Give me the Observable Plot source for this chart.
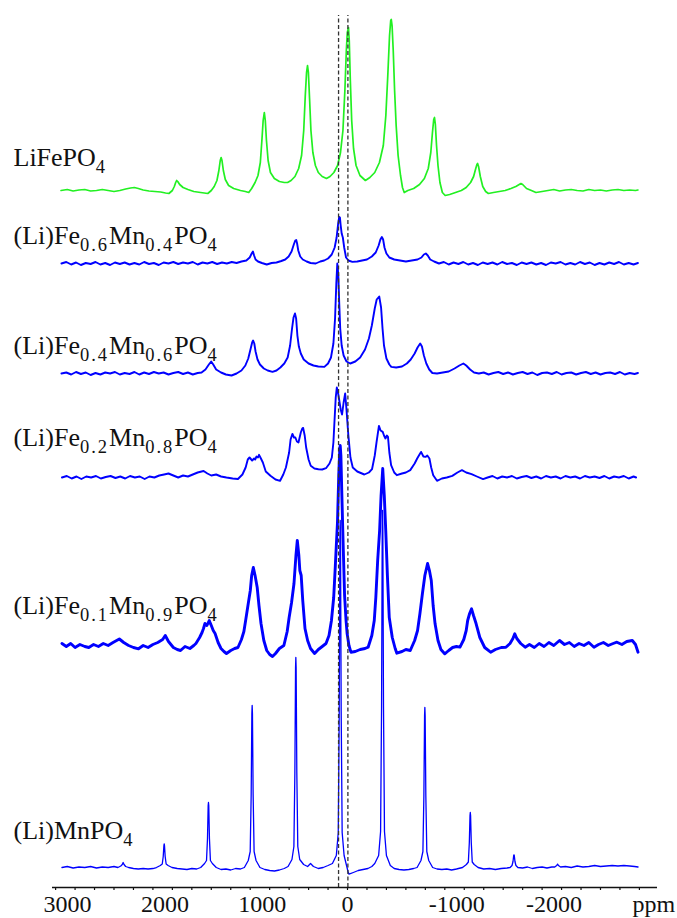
<!DOCTYPE html>
<html>
<head>
<meta charset="utf-8">
<script src="https://cdn.jsdelivr.net/npm/d3@7"></script>
<script src="https://cdn.jsdelivr.net/npm/@observablehq/plot@0.6"></script>
<style>
  html, body { margin: 0; padding: 0; background: #fff; }
  #chart svg { display: block; }
</style>
</head>
<body>
<div id="chart"></div>
<script>
// ---- Data (ppm, intensity above each trace's own baseline) ----
const names = ["LiFePO_{4}", "(Li)Fe_{0.6}Mn_{0.4}PO_{4}", "(Li)Fe_{0.4}Mn_{0.6}PO_{4}", "(Li)Fe_{0.2}Mn_{0.8}PO_{4}", "(Li)Fe_{0.1}Mn_{0.9}PO_{4}", "(Li)MnPO_{4}"];
const offsets = [697, 624, 514, 410, 242, 20];
const labelY = [722, 644, 534, 442, 274, 49];
const dashedPpm = [92, -4];
const dashedTop = 872;
const tickLabels = [3000, 2000, 1000, 0, -1000, -2000];
const minorTicks = d3.range(3000, -3001, -200);

const lifepo4 = [
[2944,0],[2880,1],[2820,-0.5],[2760,0.5],[2700,1],[2640,-0.5],[2580,0],[2520,1],[2460,0],[2400,-1],[2340,0],[2280,1.5],[2230,2.5],[2191,3],[2150,2],[2100,0.5],[2040,-0.5],[1980,-1],[1920,-1.5],[1870,-2.5],[1836,-3],
[1800,0],[1780,4],[1766,8],[1756,10],[1745,9],[1725,6],[1690,3],[1640,1],[1580,-1],[1510,-2],[1436,-3],
[1400,0],[1370,4],[1342,10],[1322,20],[1308,30],[1299,33],[1290,30],[1276,20],[1256,11],[1222,5],[1170,2],[1100,0],[1050,-1],[1015,-2],
[985,2],[950,8],[920,15],[896,28],[880,50],[867,70],[855,78],[845,70],[833,50],[816,30],[792,18],[752,12],[700,9],[650,8],[616,8],
[580,10],[540,14],[502,22],[472,35],[450,60],[434,95],[421,118],[411,125],[402,118],[390,92],[376,60],[356,38],[330,25],[300,18],[260,14],[216,12],
[180,14],[140,18],[102,25],[72,38],[47,60],[27,100],[12,140],[2,158],[-10,163],[-18,150],[-29,110],[-43,70],[-62,42],[-88,25],[-128,15],[-184,10],
[-230,13],[-280,18],[-328,28],[-368,45],[-394,75],[-414,115],[-432,155],[-444,170],[-450,171],[-458,165],[-470,140],[-484,100],[-500,65],[-520,35],[-545,15],[-565,3],[-583,-2],
[-620,0],[-680,2],[-740,6],[-790,12],[-830,22],[-856,38],[-873,58],[-886,71],[-894,73],[-903,66],[-915,45],[-930,25],[-950,8],[-975,-2],[-1004,-5],
[-1050,-4],[-1110,-2],[-1170,0],[-1220,3],[-1265,8],[-1296,14],[-1318,22],[-1330,26],[-1337,27],[-1347,24],[-1365,14],[-1390,4],[-1420,-1],[-1448,-3],
[-1500,-2],[-1560,-1],[-1620,0],[-1680,2],[-1730,4],[-1765,6],[-1782,7],[-1800,6],[-1840,2],[-1890,0],[-1937,-2],[-2000,-1],
[-2060,0],[-2120,1],[-2180,-0.5],[-2240,0.5],[-2300,1],[-2360,0],[-2420,-0.5],[-2480,1],[-2540,0],[-2600,0.5],[-2660,-0.5],[-2720,0.5],[-2780,1],[-2840,0],[-2900,0.5],[-2960,0],[-2985,0.5]
];

const fe06 = [
[2940,0],[2890,1.5],[2840,-1],[2790,1],[2740,-1.5],[2690,0.5],[2640,-0.5],[2590,1.5],[2540,-1],[2490,0.5],[2440,-1.5],[2390,1],[2340,-0.5],[2290,1],[2240,-1],[2190,0.5],[2140,-1],[2090,1.5],[2040,-0.5],[1990,0.5],[1940,-1.5],[1890,1],[1840,0],[1790,1.5],[1740,-0.5],[1690,1],[1640,0],[1590,1.5],[1540,-1],[1490,1],[1440,0],[1390,1.5],[1340,-0.5],[1290,1],[1240,0],[1190,1.5],[1140,0.5],[1090,2],[1040,3],[1005,6],[985,10],[972,12],[960,8],[945,4],[920,2],[880,0.5],[830,-1],[780,0.5],[730,1],[680,2.5],[640,4],[605,7],[575,12],[552,19],[537,23],[527,23.5],[518,20],[506,13],[486,7],[460,4],[420,2],[380,0.5],[327,0],[280,2],[240,3],[200,5],[162,9],[132,16],[112,26],[96,40],[85,46.5],[78,46],[70,38],[60,30],[48,26],[34,16],[15,6],[-10,3],[-50,1.6],[-100,2],[-150,3],[-200,4],[-250,7],[-290,11],[-320,18],[-338,24],[-353,26.5],[-366,24],[-380,16],[-400,10],[-430,6],[-480,4],[-539,3],[-600,2],[-660,3],[-720,4],[-760,6],[-785,9],[-805,10],[-825,8],[-850,4],[-890,2],[-940,0],[-990,1.5],[-1040,-1],[-1090,1],[-1140,-0.5],[-1190,1.5],[-1240,-1],[-1290,0.5],[-1340,-1.5],[-1390,1],[-1440,-0.5],[-1490,1],[-1540,-1],[-1590,1.5],[-1640,-0.5],[-1690,0.5],[-1740,-1.5],[-1790,1],[-1840,-0.5],[-1890,1],[-1940,-1],[-1990,0.5],[-2040,-1.5],[-2090,1],[-2140,0],[-2190,1.5],[-2240,-1],[-2290,0.5],[-2340,-1],[-2390,1.5],[-2440,-0.5],[-2490,1],[-2540,-1.5],[-2590,0.5],[-2640,-1],[-2690,1],[-2740,-0.5],[-2790,1.5],[-2840,-1],[-2890,0.5],[-2940,-1],[-2985,0.5]
];

const fe04 = [
[2940,0],[2890,1],[2840,-1],[2790,1.5],[2740,-0.5],[2690,1],[2640,-1.5],[2590,0.5],[2540,-1],[2490,1],[2440,0],[2390,1.5],[2340,-1],[2290,0.5],[2240,-0.5],[2190,1.5],[2140,-1],[2090,1],[2040,-0.5],[1990,1.5],[1940,0],[1890,1],[1840,-1],[1790,0.5],[1740,1.5],[1690,-0.5],[1640,1],[1590,-1],[1540,0.5],[1500,1],[1460,4],[1425,9],[1401,12],[1380,9],[1350,4],[1300,1],[1250,-1],[1192,-2],[1140,0],[1090,3],[1050,8],[1020,15],[995,25],[980,31],[970,33],[958,30],[945,22],[925,14],[900,9],[860,5],[820,3],[771,1.6],[730,3],[690,6],[650,10],[615,16],[590,28],[570,45],[555,56],[540,60],[528,55],[515,38],[500,27],[480,20],[450,14],[400,10],[350,8],[300,7],[238,6.6],[200,10],[170,16],[145,30],[128,55],[115,90],[105,110],[95,100],[85,70],[75,45],[60,28],[40,18],[10,12],[-28,10],[-80,12],[-130,16],[-180,24],[-220,35],[-250,48],[-280,65],[-300,74],[-326,77],[-345,66],[-360,45],[-375,28],[-400,15],[-430,9],[-450,6.6],[-500,6],[-560,7],[-610,10],[-650,14],[-690,20],[-720,26],[-747,30],[-765,27],[-785,18],[-810,10],[-840,4],[-872,0.5],[-920,0],[-980,1],[-1040,2],[-1100,5],[-1150,8],[-1191,10],[-1220,8],[-1260,4],[-1300,1],[-1350,0],[-1400,1],[-1450,-1],[-1500,0.5],[-1550,1.5],[-1600,-0.5],[-1650,1],[-1700,-1],[-1750,0.5],[-1800,1.5],[-1850,-0.5],[-1900,1],[-1950,-1.5],[-2000,0.5],[-2050,1],[-2100,-0.5],[-2150,1.5],[-2200,-1],[-2250,0.5],[-2300,1],[-2350,-1],[-2400,0.5],[-2450,1.5],[-2500,-0.5],[-2550,1],[-2600,-1],[-2650,0.5],[-2700,1],[-2750,-0.5],[-2800,1.5],[-2850,-1],[-2900,0.5],[-2950,-0.5],[-2985,0.5]
];

const fe02 = [
[2935,0],[2885,1.5],[2835,-1],[2785,1],[2735,-1.5],[2685,1],[2635,0],[2585,1.5],[2535,-1],[2485,0.5],[2435,1.5],[2385,-0.5],[2335,1],[2285,-1],[2235,1.5],[2185,0],[2135,1],[2085,-1.5],[2035,1],[1985,0],[1935,2],[1885,3],[1840,4],[1790,2],[1740,0],[1690,2],[1640,1],[1590,3],[1540,5],[1500,6],[1479,6.5],[1440,4],[1400,2],[1350,3],[1300,1],[1244,0],[1180,-1],[1126,-1.5],[1080,3],[1047,10],[1025,18],[1007,20],[980,17],[960,19],[949,18],[935,21],[920,20],[909,22.7],[890,19],[870,15],[840,6],[792,1.7],[740,-2],[693,-3.3],[660,3],[633,10],[600,25],[585,38],[566,43.6],[550,40],[536,40],[520,36],[504,35],[480,45],[465,49],[456,49.6],[440,42],[425,30],[400,18],[378,11.7],[340,9],[299,8.3],[260,8],[221,9.3],[185,14],[161,20],[145,35],[134,56],[121,80],[110,90],[96,84],[83,76],[70,68],[56,63],[40,75],[24,84],[12,70],[-8,43],[-30,20],[-54,10],[-100,6],[-173,3],[-220,5],[-252,8.3],[-280,22],[-298,35],[-323,51.6],[-340,47],[-362,45.6],[-375,42],[-390,39],[-405,42],[-416,40.6],[-430,25],[-448,12.3],[-480,5],[-507,2.3],[-560,4],[-600,5],[-645,7.4],[-690,14],[-716,19],[-740,23],[-756,25.6],[-780,21],[-802,20.6],[-820,22],[-842,19],[-860,10],[-881,2.3],[-920,-3.3],[-970,-1],[-1020,0],[-1077,1.6],[-1130,5],[-1176,7.3],[-1220,5],[-1275,3.3],[-1330,1],[-1393,-1.6],[-1440,0],[-1490,1.5],[-1540,-1],[-1590,1],[-1640,0],[-1690,1.5],[-1740,-1],[-1790,0.5],[-1840,1.5],[-1890,-0.5],[-1940,1],[-1990,-1],[-2040,1.5],[-2090,0],[-2140,1],[-2190,-1],[-2240,1.5],[-2290,0],[-2340,1],[-2390,-1],[-2440,1.5],[-2490,0],[-2540,1],[-2590,-0.5],[-2640,1.5],[-2690,-1],[-2740,1],[-2790,0],[-2840,1.5],[-2890,-1],[-2940,1],[-2966,0]
];

const fe01 = [
[2935,2],[2890,-1],[2845,2],[2800,-2],[2750,1],[2700,-1],[2659,-2],[2610,1],[2560,-1],[2510,2],[2460,0],[2410,3],[2345,6.5],[2300,3],[2250,0],[2200,-2],[2148,-3.3],[2100,0],[2050,-2],[2000,1],[1950,3],[1900,6],[1873,10],[1840,4],[1790,-2],[1750,-4],[1716,-5],[1670,-1],[1620,-3],[1580,0],[1558,2],[1520,8],[1495,13],[1480,17],[1465,22],[1445,20],[1421,25],[1400,20],[1380,15],[1361,12],[1330,3],[1300,-3],[1270,-6],[1244,-8],[1200,-5],[1160,-3],[1126,-2],[1090,6],[1065,14],[1047,25],[1020,42],[999,55],[985,70],[968,78],[950,70],[928,58],[910,40],[889,22],[860,5],[830,-5],[800,-9],[771,-11],[740,-8],[700,-3],[654,0],[620,14],[600,28],[575,43],[550,62],[530,90],[516,105],[500,90],[490,75],[476,70],[460,45],[437,17],[410,5],[380,-3],[338,-8],[300,-4],[260,-1],[221,2],[190,10],[165,25],[142,48],[125,80],[115,100],[103,123],[90,170],[80,195],[75,200],[68,190],[58,150],[50,120],[43,95],[30,50],[15,25],[4,12],[-15,0],[-35,-6.7],[-80,-6],[-130,-4],[-180,-3],[-212,-1.7],[-250,10],[-275,25],[-291,48],[-310,85],[-330,115],[-345,150],[-362,177],[-378,150],[-393,115],[-410,70],[-429,28],[-460,8],[-490,-3],[-507,-7.7],[-560,-6],[-600,-4],[-645,-5],[-690,5],[-720,15],[-744,31.7],[-770,52],[-795,70],[-823,82],[-842,75],[-861,65],[-880,40],[-900,21.7],[-930,5],[-960,-4],[-999,-8.3],[-1040,-5],[-1080,-2],[-1120,-1],[-1156,-1.7],[-1195,6],[-1220,15],[-1235,25],[-1255,32],[-1275,36.7],[-1295,30],[-1322,21.7],[-1360,8],[-1410,-2],[-1471,-6.7],[-1520,-4],[-1580,-2],[-1628,-1.7],[-1670,2],[-1700,7],[-1719,11.7],[-1740,7],[-1780,2],[-1826,-1.7],[-1870,1],[-1920,-2],[-1970,2],[-2020,-1],[-2070,3],[-2120,0],[-2179,5],[-2230,1],[-2280,3],[-2330,-1],[-2380,2],[-2430,0],[-2480,3],[-2533,-1.7],[-2580,1],[-2630,3],[-2680,0],[-2730,2],[-2769,3.3],[-2820,1],[-2870,4],[-2927,5],[-2960,1],[-2986,-6.7]
];

const mnpo4 = [
[2935,0],[2880,1],[2820,-0.5],[2760,0.5],[2700,0],[2640,1],[2580,-0.5],[2520,0.5],[2460,0],[2400,1],[2360,0],[2330,1.5],[2315,3],[2306,5],[2297,3],[2280,1],[2250,0],[2200,-1],[2150,-1.5],[2100,-1],[2050,-1.5],[2000,-1],[1964,0],[1924,2],[1904,3.5],[1894,11],[1887,22],[1884,23.7],[1881,22],[1874,11],[1864,3.5],[1844,2],[1804,0],[1750,-1],[1700,-1.5],[1650,-2],[1600,-1],[1550,-1.5],[1509,0],[1469,4],[1449,7],[1439,29],[1432,62],[1429,65],[1426,62],[1419,29],[1409,7],[1389,4],[1349,0],[1300,-2],[1250,-1.5],[1200,-2.5],[1150,-1],[1100,-1.5],[1060,0],[1020,7],[1000,16],[990,73],[983,154],[980,162],[977,154],[970,73],[960,16],[940,7],[900,0],[850,-2],[800,-3],[750,-3.5],[700,-2.5],[650,-1],[611,1],[571,8],[551,21],[541,95],[534,200],[531,210],[528,200],[521,95],[511,21],[491,8],[451,3],[410,1],[380,4],[350,1],[300,-1],[250,0],[200,2],[155,4],[115,12],[95,35],[85,156],[78,330],[75,347],[72,330],[65,156],[55,35],[35,12],[10,2],[-5,-4],[-15,-6.7],[-60,-5],[-110,-3],[-160,-2],[-210,-1],[-250,1],[-280,4],[-320,12],[-340,36],[-350,160],[-357,340],[-360,357],[-363,340],[-370,160],[-380,36],[-400,12],[-440,2],[-480,-1],[-530,-2],[-580,-2.5],[-630,-2],[-680,-1],[-715,0],[-755,7],[-775,16],[-785,72],[-792,152],[-795,160],[-798,152],[-805,72],[-815,16],[-835,7],[-875,0],[-920,-1.5],[-970,-2],[-1020,-1.5],[-1070,-2.5],[-1120,-1.5],[-1182,0],[-1222,3],[-1242,5.5],[-1252,25],[-1259,52],[-1262,55],[-1265,52],[-1272,25],[-1282,5.5],[-1302,3],[-1342,0],[-1400,-1.5],[-1460,-1],[-1520,-2],[-1580,-1],[-1640,-0.5],[-1671,0],[-1691,2],[-1701,6],[-1708,12],[-1711,12.7],[-1714,12],[-1721,6],[-1731,2],[-1751,0],[-1800,-0.5],[-1850,0.5],[-1900,-1],[-1950,0],[-2000,0.5],[-2050,-0.5],[-2100,0.5],[-2130,0.5],[-2150,2],[-2159,3.4],[-2168,2],[-2190,0.5],[-2240,1],[-2300,0],[-2360,1.5],[-2420,0.5],[-2480,1],[-2540,2],[-2600,1],[-2660,1.5],[-2720,2],[-2780,1.5],[-2840,2],[-2900,1.5],[-2950,1],[-2986,0.5]
];

const spectra = [lifepo4, fe06, fe04, fe02, fe01, mnpo4];
const colors = ["#22f022", "#0000ff", "#0000ff", "#0000ff", "#0000ff", "#0000ff"];
const widths = [1.7, 1.9, 1.9, 1.9, 2.9, 1.3];

// ---- Build ----
const rows = spectra.map((s, i) => s.map(([ppm, v]) => ({ppm, y: offsets[i] + v, i})));
const labelRows = names.map((label, i) => ({label, y: labelY[i]}));
const drawOrder = [5, 4, 3, 2, 1, 0];

const serif = "'Liberation Serif', 'Times New Roman', Times, serif";

const svg = Plot.plot({
  width: 677,
  height: 918,
  marginLeft: 52,
  marginRight: 20,
  marginTop: 0,
  marginBottom: 31,
  x: {domain: [3032, -3186], label: null},
  y: {domain: [0, 887], axis: null},
  style: {fontFamily: serif, background: "white", color: "black", overflow: "visible"},
  marks: [
    ...drawOrder.map(i => Plot.line(rows[i], {x: "ppm", y: "y", stroke: colors[i], strokeWidth: widths[i], strokeLinejoin: "round"})),
    Plot.ruleX(dashedPpm, {y1: 0, y2: dashedTop, stroke: "#333", strokeWidth: 1.3, strokeDasharray: "4,2.5"}),
    Plot.ruleY([0], {stroke: "#111", strokeWidth: 1.5}),
    Plot.axisX(minorTicks, {tickSize: 3, tickFormat: () => "", label: null, stroke: "#111", strokeWidth: 1.2}),
    Plot.axisX(tickLabels.filter(d => d !== 0), {tickSize: 0, tickPadding: 7.7, dx: 12, tickFormat: d => String(d), fontSize: 24, label: null, fill: "#111"}),
    Plot.axisX(tickLabels.filter(d => d === 0), {tickSize: 0, tickPadding: 7.7, tickFormat: d => String(d), fontSize: 24, label: null, fill: "#111"}),
    Plot.text(["ppm"], {frameAnchor: "bottom-right", textAnchor: "start", lineAnchor: "bottom", dx: -25, dy: 24, fontSize: 24, fill: "#111"}),
    Plot.text(labelRows, {frameAnchor: "left", y: "y", text: "label", textAnchor: "start", lineAnchor: "bottom", dx: -39, fontSize: 26, fill: "#111"})
  ]
});

// subscripts: turn "_{...}" into lowered, smaller tspans
d3.select(svg).selectAll("g[aria-label='text'] text").each(function() {
  const s = this.textContent;
  if (!s.includes("_{")) return;
  const sel = d3.select(this);
  sel.text(null);
  const parts = s.split(/(_\{[^}]*\})/).filter(p => p);
  let lowered = false;
  for (const p of parts) {
    if (p.startsWith("_{")) {
      sel.append("tspan").attr("dy", lowered ? 0 : 7).attr("font-size", 18.5).attr("letter-spacing", 2).text(p.slice(2, -1));
      lowered = true;
    } else {
      sel.append("tspan").attr("dy", lowered ? -7 : 0).text(p);
      lowered = false;
    }
  }
});

document.getElementById("chart").appendChild(svg);
</script>
</body>
</html>
